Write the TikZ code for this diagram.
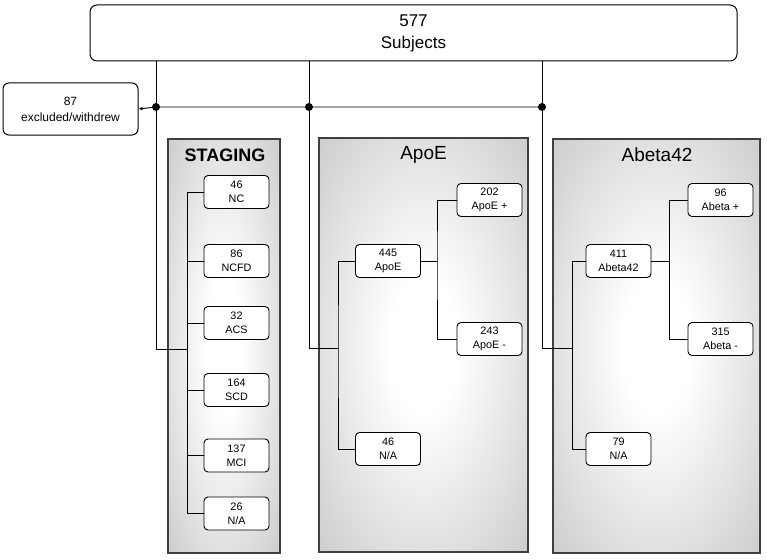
\documentclass[tikz,border=0pt]{standalone}
\usepackage{fontspec}
\setmainfont{Liberation Sans}
\usetikzlibrary{arrows.meta}
\pgfdeclareradialshading{panelshade}{\pgfpoint{0bp}{0bp}}{color(0bp)=(white); color(8bp)=(white); color(36bp)=(black!20); color(50bp)=(black!30)}
\begin{document}
\begin{tikzpicture}[x=1pt,y=-1pt,
 box/.style={draw,fill=white,rounded corners=4pt,line width=0.9pt,align=center,font=\fontsize{10.8}{14}\selectfont,minimum width=65pt,minimum height=33pt,inner sep=1pt},
 conn/.style={line width=0.9pt},
 panel/.style={draw=black!75,line width=1.3pt,shading=panelshade},
 dot/.style={circle,fill=black,inner sep=0pt,minimum size=8pt},
 ptitle/.style={font=\fontsize{19}{22}\selectfont}
]
\useasboundingbox (0,0) rectangle (767,559);
% panels
\shade[panel] (168,139) rectangle (280,553);
\shade[panel] (319,138) rectangle (528,552);
\shade[panel] (553,139) rectangle (760,553);
\node[font=\fontsize{18}{22}\selectfont\bfseries] (tS) at (225,155) {STAGING};
\node[ptitle] (tA) at (423.5,155) {ApoE};
\node[ptitle] (tB) at (657,155) {Abeta42};
% top
\node[draw,fill=white,rounded corners=7pt,line width=1pt,minimum width=647pt,minimum height=56pt,align=center,font=\fontsize{17}{22}\selectfont] (top) at (413.5,33) {577\\Subjects};
\node[draw,fill=white,rounded corners=6pt,line width=1pt,minimum width=135pt,minimum height=52pt,align=center,font=\fontsize{12}{16}\selectfont] (excl) at (70.5,109) {87\\excluded/withdrew};
\node[dot] (d1) at (156,107) {};
\node[dot] (d2) at (309,107) {};
\node[dot] (d3) at (542,107) {};
\draw[conn,-{Latex[length=4pt,width=3.5pt]}] (d3.center) -- (d1.center) -- (excl.east);
\draw[conn] (top.south -| d1) -- (d1.center);
\draw[conn] (top.south -| d2) -- (d2.center);
\draw[conn] (top.south -| d3) -- (d3.center);
% staging
\node[box] (s1) at (236.5,192) {46\\NC};
\node[box] (s2) at (236.5,261) {86\\NCFD};
\node[box] (s3) at (236.5,323) {32\\ACS};
\node[box] (s4) at (236.5,390) {164\\SCD};
\node[box] (s5) at (236.5,455.5) {137\\MCI};
\node[box] (s6) at (236.5,513.5) {26\\N/A};
\coordinate (sj) at (187,349);
\draw[conn] (d1.center) |- (sj);
\draw[conn] (s1.west -| sj) -- (s6.west -| sj);
\foreach \i in {1,...,6} \draw[conn] (s\i.west) -- (s\i.west -| sj);
% ApoE
\node[box] (a0) at (388,261) {445\\ApoE};
\node[box] (an) at (388,449) {46\\N/A};
\node[box] (ap) at (489.5,200) {202\\ApoE +};
\node[box] (am) at (489.5,339) {243\\ApoE -};
\coordinate (aj) at (338,348);
\coordinate (ak) at (437,261);
\draw[conn] (d2.center) |- (aj);
\draw[conn] (a0.west) -| (aj) |- (an.west);
\draw[conn] (a0.east) -- (ak);
\draw[conn] (ap.west) -| (ak) |- (am.west);
% Abeta
\node[box] (b0) at (618.5,261) {411\\Abeta42};
\node[box] (bn) at (618.5,449) {79\\N/A};
\node[box] (bp) at (720.5,200) {96\\Abeta +};
\node[box] (bm) at (720.5,339) {315\\Abeta -};
\coordinate (bj) at (572,348);
\coordinate (bk) at (669,261);
\draw[conn] (d3.center) |- (bj);
\draw[conn] (b0.west) -| (bj) |- (bn.west);
\draw[conn] (b0.east) -- (bk);
\draw[conn] (bp.west) -| (bk) |- (bm.west);
\end{tikzpicture}
\end{document}
